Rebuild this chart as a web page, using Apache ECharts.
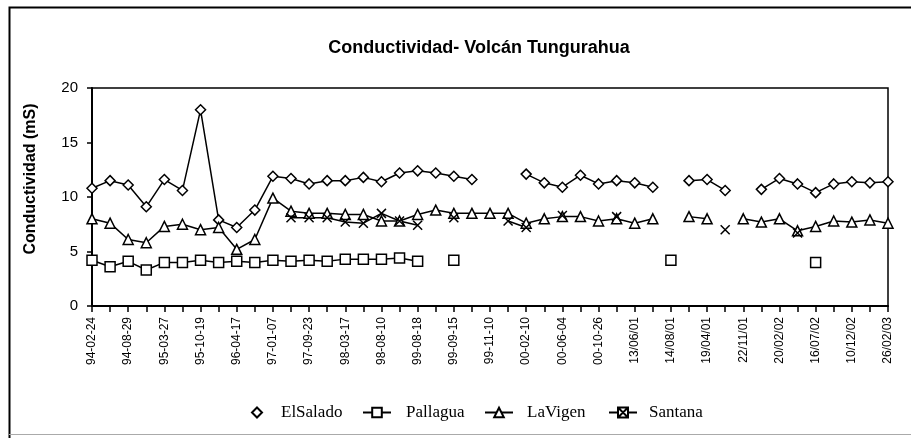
<!DOCTYPE html>
<html><head><meta charset="utf-8">
<script src="https://cdn.jsdelivr.net/npm/echarts@6/dist/echarts.min.js"></script>
<style>html,body{margin:0;padding:0;background:#fff}#c{width:911px;height:438px}</style>
</head><body><div id="c"></div>
<script>
const tickLabels = ['94-02-24','94-08-29','95-03-27','95-10-19','96-04-17','97-01-07','97-09-23','98-03-17',
  '98-08-10','99-08-18','99-09-15','99-11-10','00-02-10','00-06-04','00-10-26','13/06/01','14/08/01',
  '19/04/01','22/11/01','20/02/02','16/07/02','10/12/02','26/02/03'];
const categories = [];
tickLabels.forEach((t, i) => { categories.push(t); if (i < tickLabels.length - 1) categories.push(''); });

const elSalado = [10.8,11.5,11.1,9.1,11.6,10.6,18.0,7.9,7.2,8.8,
  11.9,11.7,11.2,11.5,11.5,11.8,11.4,12.2,12.4,12.2,
  11.9,11.6,null,null,12.1,11.3,10.9,12.0,11.2,11.5,
  11.3,10.9,null,11.5,11.6,10.6,null,10.7,11.7,11.2,
  10.4,11.2,11.4,11.3,11.4];
const pallagua = [4.2,3.6,4.1,3.3,4.0,4.0,4.2,4.0,4.1,4.0,
  4.2,4.1,4.2,4.1,4.3,4.3,4.3,4.4,4.1,null,
  4.2,null,null,null,null,null,null,null,null,null,
  null,null,4.2,null,null,null,null,null,null,null,
  4.0,null,null,null,null];
const laVigen = [8.0,7.6,6.1,5.8,7.3,7.5,7.0,7.2,5.2,6.1,
  9.9,8.7,8.5,8.5,8.4,8.4,7.8,7.8,8.4,8.8,
  8.5,8.5,8.5,8.5,7.6,8.0,8.2,8.2,7.8,8.0,
  7.6,8.0,null,8.2,8.0,null,8.0,7.7,8.0,6.9,
  7.3,7.8,7.7,7.9,7.6];
const santana = [null,null,null,null,null,null,null,null,null,null,
  null,8.1,8.1,8.1,7.7,7.6,8.5,7.8,7.4,null,
  8.1,null,null,7.8,7.2,null,8.3,null,null,8.2,
  null,null,null,null,null,7.0,null,null,null,6.7,
  null,null,null,null,null];
const yTicks = { min: 0, max: 20, interval: 5 };

const xPath = 'path://M0,0L10,10M10,0L0,10';
const baseSeries = (name, data, symbol, size) => ({
  name, type: 'line', data, symbol, symbolSize: size, connectNulls: false,
  showAllSymbol: true, animation: false,
  lineStyle: { color: '#000', width: 1.5 },
  itemStyle: { color: '#fff', borderColor: '#000', borderWidth: 1.5 },
  emphasis: { disabled: true }
});
const legendText = { fontFamily: 'Liberation Serif', fontSize: 17, color: '#000' };
const chart = echarts.init(document.getElementById('c'), null, { renderer: 'canvas' });
chart.setOption({
  backgroundColor: '#fff',
  animation: false,
  title: {
    text: 'Conductividad- Volcán Tungurahua',
    left: 474, top: 34, textAlign: 'center',
    textStyle: { fontFamily: 'Liberation Sans', fontWeight: 'bold', fontSize: 18, color: '#000' }
  },
  graphic: [
    { type: 'polyline', silent: true, shape: { points: [[9.5, 440], [9.5, 7.5], [915, 7.5]] }, style: { stroke: '#000', lineWidth: 2, fill: null } },
    { type: 'line', silent: true, shape: { x1: 9, y1: 434.5, x2: 911, y2: 434.5 }, style: { stroke: '#aaa', lineWidth: 1 } }
  ],
  grid: { left: 92, right: 23, top: 88, bottom: 132, show: true, borderColor: '#000', borderWidth: 1.5, backgroundColor: '#fff' },
  legend: [
    { left: 246, top: 399, itemWidth: 10, itemHeight: 10, data: [{ name: 'ElSalado', icon: 'path://M5,0L10,5L5,10L0,5Z' }], textStyle: Object.assign({ padding: [0,0,0,14] }, legendText), selectedMode: false },
    { left: 357, top: 399, itemWidth: 28, itemHeight: 12, data: ['Pallagua'], textStyle: Object.assign({ padding: [0,0,0,10] }, legendText), selectedMode: false },
    { left: 479, top: 399, itemWidth: 28, itemHeight: 12, data: ['LaVigen'], textStyle: Object.assign({ padding: [0,0,0,9] }, legendText), selectedMode: false },
    { left: 603, top: 399, itemWidth: 28, itemHeight: 10, data: [{ name: 'Santana', icon: 'path://M0,5L9,5M9,0L19,0L19,10L9,10ZM9,0L19,10M19,0L9,10M19,5L28,5' }], textStyle: Object.assign({ padding: [0,0,0,7] }, legendText), selectedMode: false }
  ],
  xAxis: {
    type: 'category', data: categories, boundaryGap: false,
    axisLine: { lineStyle: { color: '#000', width: 2 } },
    axisTick: { show: true, interval: 0, length: 6, inside: false, lineStyle: { color: '#000', width: 1.5 } },
    axisLabel: { interval: 1, rotate: 90, margin: 11, fontFamily: 'Liberation Sans', fontSize: 12, color: '#000' },
    splitLine: { show: false }
  },
  yAxis: {
    type: 'value', min: yTicks.min, max: yTicks.max, interval: yTicks.interval,
    name: 'Conductividad (mS)', nameLocation: 'middle', nameRotate: 90, nameGap: 53,
    nameTextStyle: { fontFamily: 'Liberation Sans', fontWeight: 'bold', fontSize: 16, color: '#000', padding: [0, 0, 0, 36] },
    axisLine: { show: true, lineStyle: { color: '#000', width: 2 } },
    axisTick: { show: true, length: 5, lineStyle: { color: '#000', width: 1.5 } },
    axisLabel: { margin: 14, fontFamily: 'Liberation Sans', fontSize: 15, color: '#000' },
    splitLine: { show: false }
  },
  series: [
    baseSeries('ElSalado', elSalado, 'diamond', 10),
    baseSeries('Pallagua', pallagua, 'rect', 10),
    baseSeries('LaVigen', laVigen, 'triangle', 10),
    baseSeries('Santana', santana, xPath, 9)
  ]
});
</script></body></html>
